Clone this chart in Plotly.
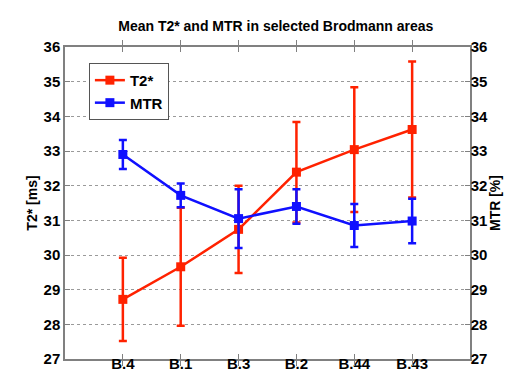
import plotly.graph_objects as go

categories = ["B.4", "B.1", "B.3", "B.2", "B.44", "B.43"]
t2_mean = [28.72, 29.66, 30.74, 32.39, 33.04, 33.62]
t2_err = [1.2, 1.7, 1.26, 1.45, 1.8, 1.96]
mtr_mean = [32.9, 31.72, 31.05, 31.4, 30.85, 30.98]
mtr_err = [0.42, 0.34, 0.85, 0.5, 0.62, 0.64]
y_ticks = [27, 28, 29, 30, 31, 32, 33, 34, 35, 36]

xpos = list(range(1, len(categories) + 1))
RED = "#ff2200"
BLUE = "#1010ff"
AX = "#808080"
FAM = "Liberation Sans, Arial, sans-serif"
FONT = dict(family=FAM, size=15, color="black", weight="bold")

fig = go.Figure()
fig.add_trace(go.Scatter(
    x=xpos, y=t2_mean, name="T2*", mode="lines+markers",
    line=dict(color=RED, width=2.5),
    marker=dict(symbol="square", size=9, color=RED),
    error_y=dict(type="data", array=t2_err, color=RED, thickness=2.5, width=4),
    yaxis="y",
))
fig.add_trace(go.Scatter(
    x=xpos, y=mtr_mean, name="MTR", mode="lines+markers",
    line=dict(color=BLUE, width=2.5),
    marker=dict(symbol="square", size=9, color=BLUE),
    error_y=dict(type="data", array=mtr_err, color=BLUE, thickness=2.5, width=4),
    yaxis="y2",
))

fig.update_layout(
    width=512, height=371,
    margin=dict(l=57, r=50, t=39, b=20),
    paper_bgcolor="white", plot_bgcolor="white",
    font=FONT,
    title=dict(text="Mean T2* and MTR in selected Brodmann areas", x=0.523, xanchor="center",
               y=0.95, yanchor="middle", font=dict(size=14, family=FAM, weight="bold", color="black")),
    xaxis=dict(range=[0, 7], tickvals=xpos, ticktext=categories, showgrid=False,
               showline=True, linecolor=AX, linewidth=1.5, mirror="allticks",
               ticks="inside", ticklen=5, tickcolor=AX, zeroline=False,
               automargin=False, tickfont=FONT, ticklabelstandoff=-10),
    yaxis=dict(range=[27, 36], tickvals=y_ticks, showgrid=True, gridcolor="#9a9a9a",
               griddash="dot", gridwidth=1, showline=True, linecolor=AX, linewidth=1.5,
               ticks="inside", ticklen=5, tickcolor=AX, zeroline=False,
               title=dict(text="T2* [ms]", standoff=3,
                          font=dict(size=14, family=FAM, weight="bold", color="black")),
               automargin=False, tickfont=FONT),
    yaxis2=dict(range=[27, 36], tickvals=y_ticks, overlaying="y", side="right",
                showgrid=False, showline=True, linecolor=AX, linewidth=1.5,
                ticks="inside", ticklen=5, tickcolor=AX, zeroline=False,
                title=dict(text="MTR [%]", standoff=3,
                           font=dict(size=14, family=FAM, weight="bold", color="black")),
                automargin=False, tickfont=FONT, ticklabelstandoff=-4),
    legend=dict(x=0.059, y=0.949, xanchor="left", yanchor="top", bgcolor="white",
                bordercolor="#555555", borderwidth=1, font=FONT, itemwidth=30,
                tracegroupgap=0),
    showlegend=True,
)

fig.write_html("out.html")
